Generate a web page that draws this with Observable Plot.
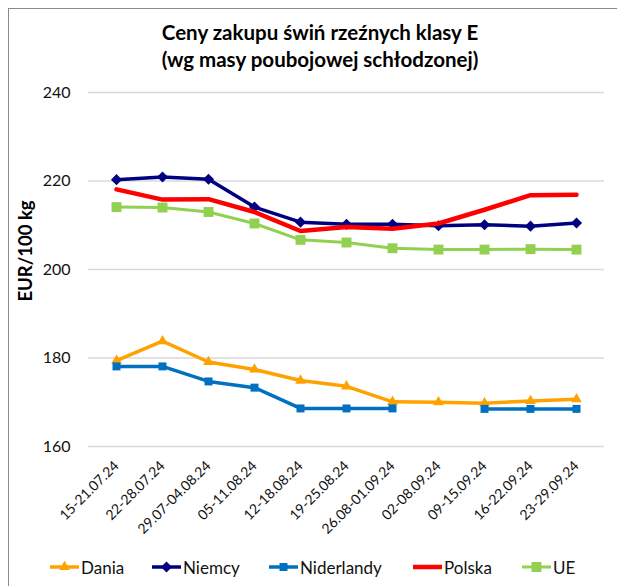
<!DOCTYPE html>
<html>
<head>
<meta charset="utf-8">
<script src="https://cdn.jsdelivr.net/npm/d3@7"></script>
<script src="https://cdn.jsdelivr.net/npm/@observablehq/plot@0.6"></script>
<style>
  body { margin: 0; background: #fff; font-family: Lato, sans-serif; }
  #frame { position: absolute; left: 8px; top: 8px; width: 660px; height: 640px;
           border-left: 1.5px solid #8a8a8a; border-top: 1.5px solid #8a8a8a; }
  #title { position: absolute; left: 8px; width: 624px; top: 18.6px; text-align: center;
           font-weight: bold; font-size: 20.5px; line-height: 27px; color: #000; }
  #ylabel { position: absolute; left: 25px; top: 251px; transform: translate(-50%, -50%) rotate(-90deg);
            white-space: nowrap; font-weight: bold; font-size: 18.5px; line-height: 1; color: #000; }
  #chart { position: absolute; left: 0; top: 60px; }
  #legend { position: absolute; left: 0; top: 555px; width: 617px; height: 24px; font-size: 17px; color: #111; }
  .item { position: absolute; top: 0; height: 24px; display: flex; align-items: center; }
  .item svg { margin-right: 2px; }
</style>
</head>
<body>
<div id="frame"></div>
<div id="title">Ceny zakupu świń rzeźnych klasy E<br>(wg masy poubojowej schłodzonej)</div>
<div id="chart"></div>
<div id="ylabel"></div>
<div id="legend"></div>
<script>
const weeks = ["15-21.07.24", "22-28.07.24", "29.07-04.08.24", "05-11.08.24", "12-18.08.24",
  "19-25.08.24", "26.08-01.09.24", "02-08.09.24", "09-15.09.24", "16-22.09.24", "23-29.09.24"];
const dania      = [179.4, 183.8, 179.1, 177.4, 174.9, 173.6, 170.1, 170.0, 169.8, 170.3, 170.7];
const niemcy     = [220.3, 220.9, 220.4, 214.1, 210.7, 210.2, 210.2, 209.9, 210.1, 209.8, 210.5];
const niderlandy = [178.1, 178.1, 174.7, 173.3, 168.6, 168.6, 168.6, null, 168.5, 168.5, 168.5];
const polska     = [218.1, 215.8, 215.9, 213.0, 208.7, 209.6, 209.2, 210.4, 213.5, 216.8, 216.9];
const ue         = [214.1, 214.0, 213.0, 210.4, 206.7, 206.1, 204.8, 204.5, 204.5, 204.6, 204.5];
const seriesNames = ["Dania", "Niemcy", "Niderlandy", "Polska", "UE"];
const seriesColors = ["#ffa200", "#000080", "#0070c0", "#ff0000", "#92d050"];
const yTicks = [160, 180, 200, 220, 240];
const yLabel = "EUR/100 kg";

document.getElementById("ylabel").textContent = yLabel;

const seriesValues = [dania, niemcy, niderlandy, polska, ue];
const symbols = ["triangle", "diamond2", "square", null, "square"];
const symR = [4, 5, 4.5, 0, 5.6];
const widths = [3.5, 3.5, 3.5, 4.5, 3];

const data = seriesNames.flatMap((name, s) =>
  weeks.map((w, i) => ({ week: w, series: name, value: seriesValues[s][i] == null ? NaN : seriesValues[s][i] })));

const marks = [
  Plot.gridY(yTicks, { stroke: "#d9d9d9", strokeOpacity: 1, strokeWidth: 1.4 }),
  Plot.axisY(yTicks, { tickSize: 0, tickPadding: 18, fontSize: 16, label: null, fill: "#111" }),
  Plot.axisX({ tickSize: 0, tickRotate: -45, fontSize: 14, label: null, tickPadding: 17, fill: "#111" })
];
seriesNames.forEach((name, s) => {
  const d = data.filter(r => r.series === name);
  marks.push(Plot.line(d, { x: "week", y: "value", stroke: seriesColors[s], strokeWidth: widths[s], strokeLinejoin: "round" }));
  if (symbols[s]) {
    marks.push(Plot.dot(d.filter(r => !isNaN(r.value)), { x: "week", y: "value", symbol: symbols[s], r: symR[s], fill: seriesColors[s], stroke: "none" }));
  }
});

const chart = Plot.plot({
  width: 617, height: 480,
  marginLeft: 88, marginRight: 13, marginTop: 32, marginBottom: 94,
  style: { fontFamily: "Lato, sans-serif", background: "transparent", overflow: "visible" },
  x: { type: "point", domain: weeks, padding: 0.5 },
  y: { domain: [160, 240] },
  marks
});
document.getElementById("chart").appendChild(chart);

// legend
const legendX = [50, 152, 269, 413, 522];
const legend = document.getElementById("legend");
seriesNames.forEach((name, s) => {
  const item = document.createElement("div");
  item.className = "item";
  item.style.left = legendX[s] + "px";
  const sw = d3.create("svg").attr("width", 29).attr("height", 14);
  sw.append("line").attr("x1", 0).attr("x2", 29).attr("y1", 7).attr("y2", 7)
    .attr("stroke", seriesColors[s]).attr("stroke-width", widths[s]);
  if (symbols[s]) {
    const sym = { triangle: d3.symbolTriangle, diamond2: d3.symbolDiamond2, square: d3.symbolSquare }[symbols[s]];
    sw.append("path").attr("transform", "translate(14.5,7)")
      .attr("d", d3.symbol(sym, Math.PI * symR[s] * symR[s])()).attr("fill", seriesColors[s]);
  }
  item.appendChild(sw.node());
  const t = document.createElement("span");
  t.textContent = name;
  item.appendChild(t);
  legend.appendChild(item);
});
</script>
</body>
</html>
